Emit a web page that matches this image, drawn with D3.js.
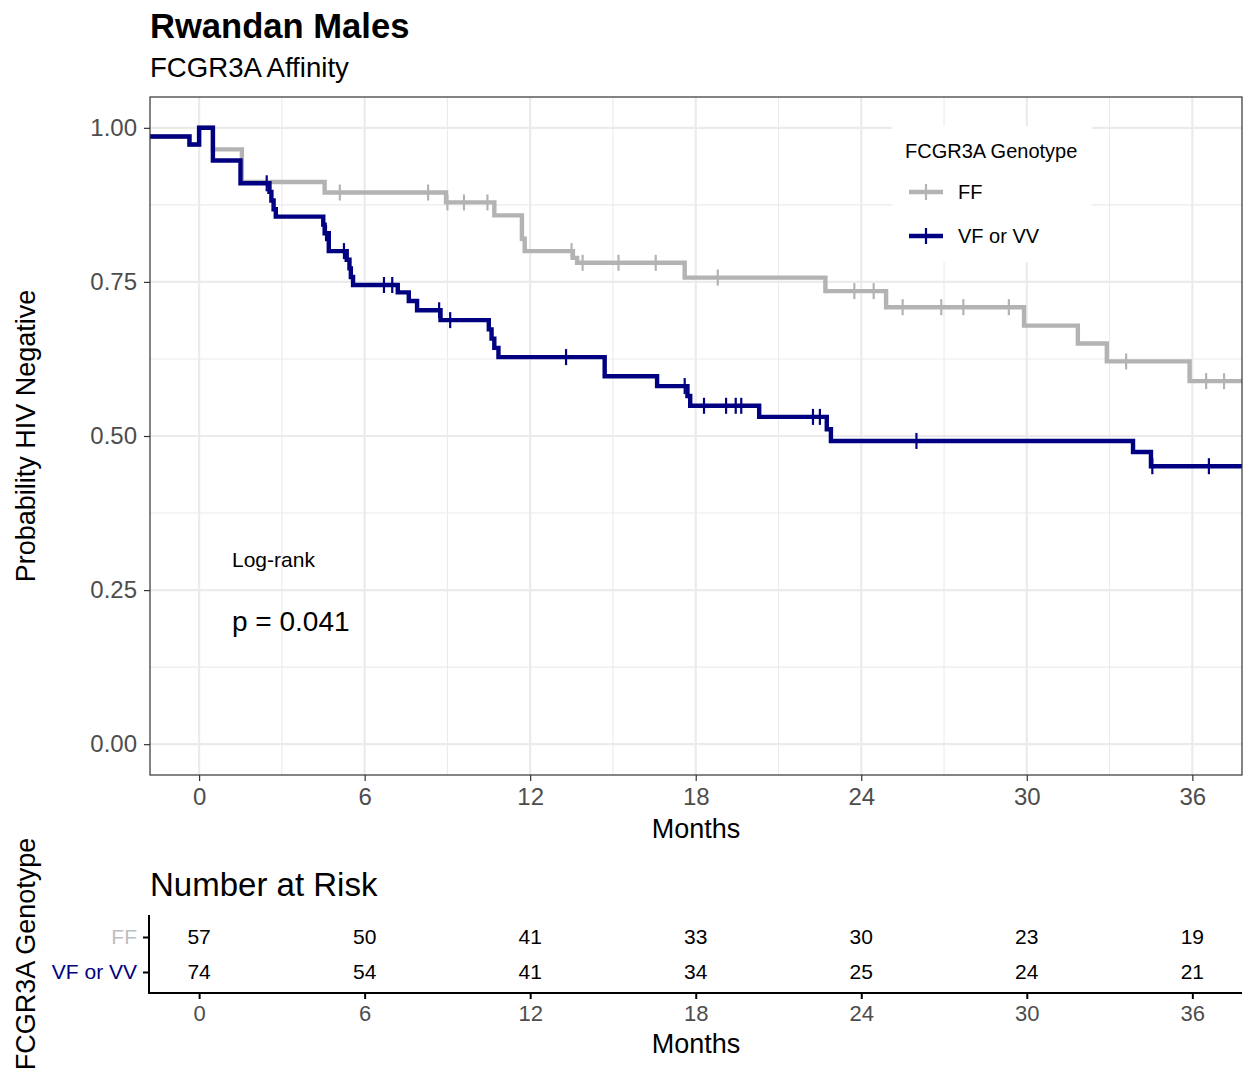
<!DOCTYPE html>
<html><head><meta charset="utf-8">
<script src="https://cdn.jsdelivr.net/npm/d3@7"></script>
<style>body{margin:0;background:#fff}svg{display:block}text{font-family:"Liberation Sans",Arial,sans-serif}</style>
</head><body><svg id="c" width="1243" height="1071"></svg>
<script>
// ---- data ----
const ffTimes = [-1.8, -0.35, 0, 0.5, 1.55, 4.55, 8.95, 10.7, 11.7, 11.8, 13.55, 13.7, 17.6, 22.7, 24.9, 29.9, 31.85, 32.9, 35.9];
const ffSurv  = [0.986, 0.973, 1.0, 0.965, 0.912, 0.895, 0.879, 0.858, 0.82, 0.80, 0.789, 0.781, 0.757, 0.735, 0.709, 0.679, 0.650, 0.621, 0.589];
const ffCensor = [5.1, 8.3, 9.0, 9.6, 10.45, 13.5, 13.9, 15.2, 16.55, 18.8, 23.75, 24.45, 25.5, 26.9, 27.7, 29.35, 33.6, 36.5, 37.15];

const vfTimes = [-1.8, -0.35, 0, 0.5, 1.5, 2.55, 2.62, 2.7, 2.78, 4.5, 4.55, 4.7, 5.35, 5.45, 5.5, 5.58, 7.2, 7.6, 7.9, 8.75, 10.5, 10.6, 10.7, 10.85, 14.7, 16.6, 17.7, 17.8, 20.3, 22.75, 22.9, 33.85, 34.5];
const vfSurv  = [0.986, 0.973, 1.0, 0.947, 0.910, 0.896, 0.882, 0.868, 0.856, 0.843, 0.829, 0.800, 0.786, 0.772, 0.758, 0.745, 0.733, 0.719, 0.704, 0.688, 0.673, 0.658, 0.643, 0.628, 0.597, 0.581, 0.565, 0.549, 0.531, 0.511, 0.492, 0.474, 0.451];
const vfCensor = [2.45, 4.6, 5.25, 6.7, 7.0, 8.7, 9.1, 13.3, 17.6, 18.3, 19.1, 19.45, 19.65, 22.25, 22.5, 26.0, 34.55, 36.6];

const xTicks = [0, 6, 12, 18, 24, 30, 36];
const yTicks = [0, 0.25, 0.5, 0.75, 1.0];
const groups = ["FF", "VF or VV"];
const riskFF = [57, 50, 41, 33, 30, 23, 19];
const riskVF = [74, 54, 41, 34, 25, 24, 21];
const pText = "p = 0.041";

// ---- layout ----
const svg = d3.select("#c");
const L = 150, R = 1242, T = 97, B = 775;
const xMin = -1.78, xMax = 37.8;
const x = d3.scaleLinear().domain([xMin, xMax]).range([L, R]);
const y = d3.scaleLinear().domain([-0.05, 1.05]).range([B, T]);
const colFF = "#B3B3B3", colVF = "#000080";
const tickCol = "#4D4D4D";

// titles
svg.append("text").attr("x", 150).attr("y", 38).attr("font-size", 34.6).attr("font-weight", "bold").text("Rwandan Males");
svg.append("text").attr("x", 150).attr("y", 77).attr("font-size", 27.6).text("FCGR3A Affinity");

// panel background & grid
const g = svg.append("g");
const minorX = d3.range(-3, 40, 6).filter(v => v > xMin && v < xMax);
const minorY = [0.125, 0.375, 0.625, 0.875];
g.selectAll(".mx").data(minorX).join("line").attr("x1", d => x(d)).attr("x2", d => x(d)).attr("y1", T).attr("y2", B).attr("stroke", "#EBEBEB").attr("stroke-width", 1.1);
g.selectAll(".my").data(minorY).join("line").attr("y1", d => y(d)).attr("y2", d => y(d)).attr("x1", L).attr("x2", R).attr("stroke", "#EBEBEB").attr("stroke-width", 1.1);
g.selectAll(".Mx").data(xTicks).join("line").attr("x1", d => x(d)).attr("x2", d => x(d)).attr("y1", T).attr("y2", B).attr("stroke", "#EBEBEB").attr("stroke-width", 2.2);
g.selectAll(".My").data(yTicks).join("line").attr("y1", d => y(d)).attr("y2", d => y(d)).attr("x1", L).attr("x2", R).attr("stroke", "#EBEBEB").attr("stroke-width", 2.2);

// curves
function stepData(times, surv) {
  const pts = times.map((t, i) => [t, surv[i]]);
  pts.push([xMax, surv[surv.length - 1]]);
  return pts;
}
function survAt(times, surv, t) {
  let s = surv[0];
  for (let i = 0; i < times.length; i++) if (times[i] <= t) s = surv[i];
  return s;
}
const line = d3.line().x(d => x(d[0])).y(d => y(d[1])).curve(d3.curveStepAfter);
const series = [
  {times: ffTimes, surv: ffSurv, cens: ffCensor, col: colFF},
  {times: vfTimes, surv: vfSurv, cens: vfCensor, col: colVF}
];
svg.append("clipPath").attr("id", "clip").append("rect").attr("x", L).attr("y", T).attr("width", R - L).attr("height", B - T);
const cg = svg.append("g").attr("clip-path", "url(#clip)");
series.forEach(s => {
  cg.append("path").datum(stepData(s.times, s.surv)).attr("d", line).attr("fill", "none").attr("stroke", s.col).attr("stroke-width", 4.4).attr("stroke-linejoin", "miter");
  cg.selectAll(null).data(s.cens).join("line")
    .attr("x1", d => x(d)).attr("x2", d => x(d))
    .attr("y1", d => y(survAt(s.times, s.surv, d)) - 8).attr("y2", d => y(survAt(s.times, s.surv, d)) + 8)
    .attr("stroke", s.col).attr("stroke-width", 2.2);
});

// panel border
svg.append("rect").attr("x", L).attr("y", T).attr("width", R - L).attr("height", B - T).attr("fill", "none").attr("stroke", "#333").attr("stroke-width", 1.2);

// axes
const yAxis = svg.append("g").attr("transform", `translate(${L},0)`).call(d3.axisLeft(y).tickValues(yTicks).tickFormat(d3.format(".2f")).tickSize(6).tickPadding(7));
const xAxis = svg.append("g").attr("transform", `translate(0,${B})`).call(d3.axisBottom(x).tickValues(xTicks).tickSize(6).tickPadding(7));
[yAxis, xAxis].forEach(a => {
  a.select(".domain").remove();
  a.selectAll(".tick line").attr("stroke", "#333").attr("stroke-width", 1.2);
  a.selectAll(".tick text").attr("fill", tickCol).attr("font-size", 24).attr("font-family", "Liberation Sans, Arial, sans-serif");
});
svg.append("text").attr("x", (L + R) / 2).attr("y", 838).attr("text-anchor", "middle").attr("font-size", 27).text("Months");
svg.append("text").attr("transform", `translate(35,${(T + B) / 2}) rotate(-90)`).attr("text-anchor", "middle").attr("font-size", 27).text("Probability HIV Negative");

// log-rank annotation
svg.append("text").attr("x", 232).attr("y", 567).attr("font-size", 21).text("Log-rank");
svg.append("text").attr("x", 232).attr("y", 631).attr("font-size", 28).text(pText);

// legend
const lg = svg.append("g");
lg.append("rect").attr("x", 892).attr("y", 126).attr("width", 200).attr("height", 136).attr("fill", "#fff");
lg.append("text").attr("x", 905).attr("y", 158).attr("font-size", 20).text("FCGR3A Genotype");
[colFF, colVF].forEach((c, i) => {
  const yy = 192 + i * 44;
  lg.append("line").attr("x1", 909).attr("x2", 943).attr("y1", yy).attr("y2", yy).attr("stroke", c).attr("stroke-width", 4.4);
  lg.append("line").attr("x1", 926).attr("x2", 926).attr("y1", yy - 8).attr("y2", yy + 8).attr("stroke", c).attr("stroke-width", 2.2);
  lg.append("text").attr("x", 958).attr("y", yy + 7).attr("font-size", 20).text(groups[i]);
});

// risk table
svg.append("text").attr("x", 150).attr("y", 896).attr("font-size", 33).text("Number at Risk");
const ry = d3.scalePoint().domain(groups).range([937, 972]);
const riskData = [riskFF, riskVF];
const rt = svg.append("g");
riskData.forEach((arr, gi) => {
  rt.selectAll(null).data(arr).join("text")
    .attr("x", (d, i) => x(xTicks[i])).attr("y", ry(groups[gi])).attr("dy", "0.35em")
    .attr("text-anchor", "middle").attr("font-size", 21).text(d => d);
});
const rAxisY = svg.append("g").attr("transform", `translate(149,0)`).call(d3.axisLeft(ry).tickSize(6).tickPadding(6));
rAxisY.select(".domain").remove();
rAxisY.selectAll(".tick line").attr("stroke", "#000").attr("stroke-width", 2);
rAxisY.selectAll(".tick text").attr("font-size", 21).attr("font-family", "Liberation Sans, Arial, sans-serif").attr("fill", (d, i) => i === 0 ? "#BEBEBE" : colVF);
svg.append("line").attr("x1", 149).attr("x2", 149).attr("y1", 915).attr("y2", 994).attr("stroke", "#000").attr("stroke-width", 2);
svg.append("line").attr("x1", 148).attr("x2", R).attr("y1", 993).attr("y2", 993).attr("stroke", "#000").attr("stroke-width", 2);
const rAxisX = svg.append("g").attr("transform", `translate(0,993)`).call(d3.axisBottom(x).tickValues(xTicks).tickSize(6).tickPadding(6));
rAxisX.select(".domain").remove();
rAxisX.selectAll(".tick line").attr("stroke", "#000").attr("stroke-width", 2);
rAxisX.selectAll(".tick text").attr("fill", tickCol).attr("font-size", 22).attr("font-family", "Liberation Sans, Arial, sans-serif");
svg.append("text").attr("x", (L + R) / 2).attr("y", 1053).attr("text-anchor", "middle").attr("font-size", 27).text("Months");
svg.append("text").attr("transform", `translate(35,954) rotate(-90)`).attr("text-anchor", "middle").attr("font-size", 27).text("FCGR3A Genotype");
</script></body></html>
